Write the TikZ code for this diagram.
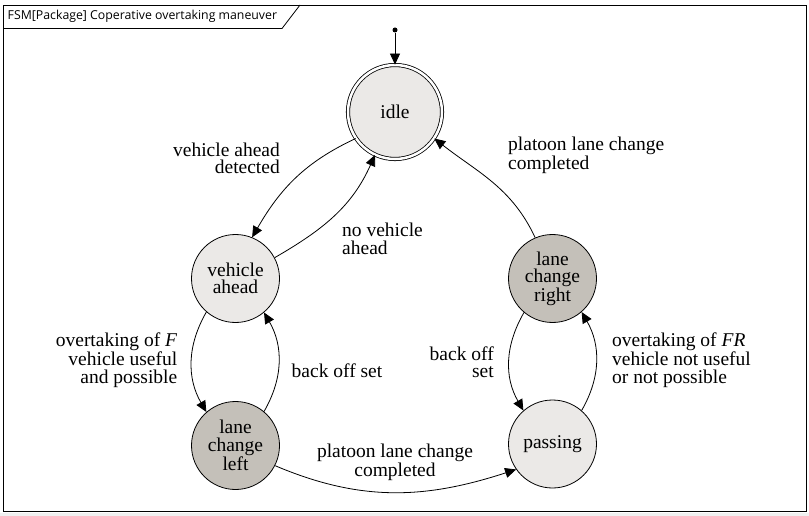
\documentclass[tikz,border=0pt]{standalone}
\usepackage{fontspec}
\setmainfont{Liberation Serif}
\newfontfamily\tabfont{Open Sans}
\usepackage{tikz}
\usetikzlibrary{arrows.meta}
\definecolor{statelight}{HTML}{EBE9E7}
\definecolor{statedark}{HTML}{C4C0B9}

\begin{document}
\begin{tikzpicture}[x=1pt, y=1pt,
            state/.style={circle, draw, line width=0.8pt, fill=statelight, minimum size=88pt, inner sep=0pt, align=center, font=\fontsize{19.5}{17.5}\selectfont},
            busy/.style={state, fill=statedark},
            trans/.style={line width=0.8pt, -{Triangle[length=11pt, width=10pt]}},
            lbl/.style={inner sep=0pt, font=\fontsize{19.5}{17.5}\selectfont}]
            \useasboundingbox (0,0) rectangle (809,-516);
            \fill[black!6] (0,-513) rectangle (809,-516);
            \draw[line width=0.8pt] (3,-5) rectangle (806,-511.5);
            \draw[line width=0.8pt] (3,-28.5) -- (282,-28.5) -- (300,-5);
            \node[anchor=west, inner sep=0pt, font=\tabfont\fontsize{12.3}{14}\selectfont] (title) at (7.5,-16.5) {FSM[Package] Coperative overtaking maneuver};

            \node[circle, fill, inner sep=0pt, minimum size=5pt] (start) at (395,-30) {};
            \node[state, minimum size=94pt, double, double distance=2.5pt] (idle) at (395,-112) {idle};
            \node[state] (va) at (235.5,-278.5) {vehicle\\ahead};
            \node[busy] (lcl) at (235.5,-445.5) {lane\\change\\left};
            \node[busy] (lcr) at (552.5,-278.5) {lane\\change\\right};
            \node[state] (pass) at (552.5,-444) {passing};

            \draw[trans] (start) -- (idle);
            \draw[trans] (idle.214) to[out=205, in=60] (va.68);
            \draw[trans] (va.28) to[out=30, in=246] (idle.245);
            \draw[trans] (va.229) to[out=240, in=120] (lcl.131);
            \draw[trans] (lcl.50) to[out=60, in=300] (va.310);
            \draw[trans] (lcl.333) to[out=-23, in=198] (pass.215);
            \draw[trans] (lcr.230) to[out=240, in=120] (pass.131);
            \draw[trans] (pass.49) to[out=60, in=300] (lcr.311);
            \draw[trans] (lcr.113) to[out=115, in=322] (idle.326);

            \node[lbl, anchor=east, align=right] (detected) at (280,-158.5) {vehicle ahead\\detected};
            \node[lbl, anchor=west, align=left] (novehicle) at (342,-239) {no vehicle\\ahead};
            \node[lbl, anchor=east, align=right] (useful) at (177.5,-360) {overtaking of \textit{F}\\vehicle useful\\and possible};
            \node[lbl, anchor=west] (backoffl) at (291.5,-371) {back off set};
            \node[lbl, align=center] (completedl) at (395,-462.5) {platoon lane change\\completed};
            \node[lbl, anchor=east, align=right] (backoffr) at (494,-362) {back off\\set};
            \node[lbl, anchor=west, align=left] (notuseful) at (612,-360) {overtaking of \textit{FR}\\vehicle not useful\\or not possible};
            \node[lbl, anchor=west, align=left] (completedr) at (508,-155) {platoon lane change\\completed};
\end{tikzpicture}
\end{document}
